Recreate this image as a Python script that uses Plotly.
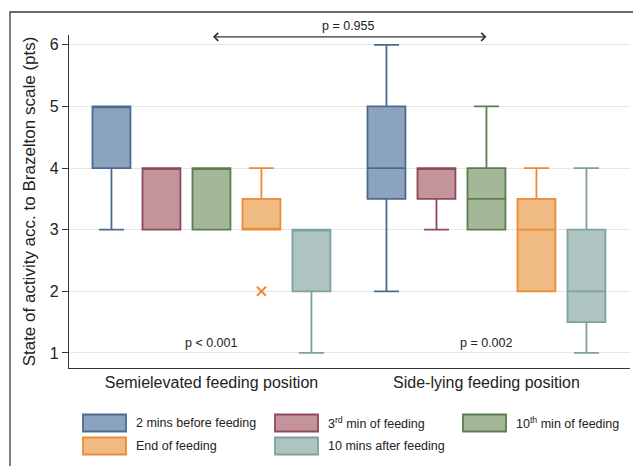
import plotly.graph_objects as go

# ---------------- data ----------------
groups = ["Semielevated feeding position", "Side-lying feeding position"]
series = ["2 mins before feeding", "3<sup>rd</sup> min of feeding", "10<sup>th</sup> min of feeding",
          "End of feeding", "10 mins after feeding"]
q1_vals = [[4, 3.5], [3, 3.5], [3, 3], [3, 2], [2, 1.5]]
med_vals = [[5, 4], [4, 4], [4, 3.5], [3, 3], [3, 2]]
q3_vals = [[5, 5], [4, 4], [4, 4], [3.5, 3.5], [3, 3]]
lo_vals = [[3, 2], [3, 3], [3, 3], [3, 2], [1, 1]]
hi_vals = [[5, 6], [4, 4], [4, 5], [4, 4], [3, 4]]
outlier_series = [3]
outlier_group = [0]
outlier_value = [2]
y_ticks = [1, 2, 3, 4, 5, 6]
p_within = ["p < 0.001", "p = 0.002"]
p_between = "p = 0.955"

fills = ["#8CA3BD", "#C4949C", "#A3B899", "#F0BB83", "#ADC4C1"]
lines = ["#4B6A93", "#8F4A58", "#5E7D4C", "#EC8A35", "#7FA19D"]

# ---------------- layout geometry ----------------
W, H = 633, 466
L, R, T, B = 69, 3, 35, 98
pw, ph = W - L - R, H - T - B
slot = 0.1818
bw = 0.138


def px_x(px):
    return (px - L) / pw


def px_y(py):
    return (H - B - py) / ph


fig = go.Figure()
n = len(series)
for i in range(n):
    xs = [g + (i - (n - 1) / 2) * slot for g in range(len(groups))]
    fig.add_trace(go.Box(
        x=xs, q1=q1_vals[i], median=med_vals[i], q3=q3_vals[i],
        lowerfence=lo_vals[i], upperfence=hi_vals[i],
        width=bw, fillcolor=fills[i], line=dict(color=lines[i], width=1.8),
        whiskerwidth=0.66, boxpoints=False, showlegend=False, name=series[i]))

for s, g, v in zip(outlier_series, outlier_group, outlier_value):
    fig.add_trace(go.Scatter(
        x=[g + (s - (n - 1) / 2) * slot], y=[v], mode="markers",
        marker=dict(symbol="x-thin", size=9, line=dict(color=lines[s], width=2), color=lines[s]),
        showlegend=False))

font_family = "Liberation Sans, Arial, sans-serif"
shapes = []
annotations = []

# outer frame
shapes.append(dict(type="rect", xref="paper", yref="paper",
                   x0=px_x(10), x1=px_x(660), y0=px_y(500), y1=px_y(12),
                   line=dict(color="#3a3a3a", width=1.3), fillcolor="rgba(0,0,0,0)", layer="below"))

# p-values within groups
for g, txt in enumerate(p_within):
    annotations.append(dict(x=g, y=1.16, xref="x", yref="y", text=txt, showarrow=False,
                            font=dict(size=12.5, color="#222", family=font_family)))

# between-group arrow
annotations.append(dict(x=1, y=6.13, ax=0, ay=6.13, xref="x", yref="y", axref="x", ayref="y",
                        text="", showarrow=True, arrowhead=4, startarrowhead=4, arrowside="end+start",
                        arrowsize=1.1, startarrowsize=1.1, arrowwidth=1.4, arrowcolor="#333"))
annotations.append(dict(x=0.5, y=px_y(26), xref="x", yref="paper", text=p_between, showarrow=False,
                        yanchor="middle",
                        font=dict(size=12.5, color="#222", family=font_family)))

# manual legend
cols_px = [83, 275, 463]
rows_px = [423, 446]
sw_w, sw_h = 43, 17
for i in range(n):
    r, c = divmod(i, 3)
    x0 = cols_px[c]
    yc = rows_px[r]
    shapes.append(dict(type="rect", xref="paper", yref="paper",
                       x0=px_x(x0), x1=px_x(x0 + sw_w), y0=px_y(yc + sw_h / 2), y1=px_y(yc - sw_h / 2),
                       fillcolor=fills[i], line=dict(color=lines[i], width=1.8)))
    annotations.append(dict(x=px_x(x0 + sw_w + 8), y=px_y(yc), xref="paper", yref="paper",
                            text=series[i], showarrow=False, xanchor="left", yanchor="middle",
                            font=dict(size=12.5, color="#222", family=font_family)))

fig.update_layout(
    width=W, height=H, margin=dict(l=L, r=R, t=T, b=B),
    paper_bgcolor="white", plot_bgcolor="white",
    boxmode="overlay",
    font=dict(family=font_family, color="#222"),
    shapes=shapes, annotations=annotations,
    xaxis=dict(range=[-0.518, 1.522], tickvals=list(range(len(groups))), ticktext=groups,
               showgrid=False, zeroline=False, showline=True, linecolor="#333", linewidth=1.3,
               ticks="", tickfont=dict(size=16, color="#222")),
    yaxis=dict(range=[0.755, 6.16], tickvals=y_ticks, showgrid=True, gridcolor="#E6E6E6", gridwidth=1,
               zeroline=False, showline=True, linecolor="#333", linewidth=1.3,
               ticks="outside", ticklen=6, tickcolor="#333", tickfont=dict(size=16, color="#222"),
               title=dict(text="State of activity acc. to Brazelton scale (pts)", standoff=9,
                          font=dict(size=17, color="#222"))),
)

fig.write_html("out.html", config={"displayModeBar": False},
               post_script="document.body.style.margin='0';")
